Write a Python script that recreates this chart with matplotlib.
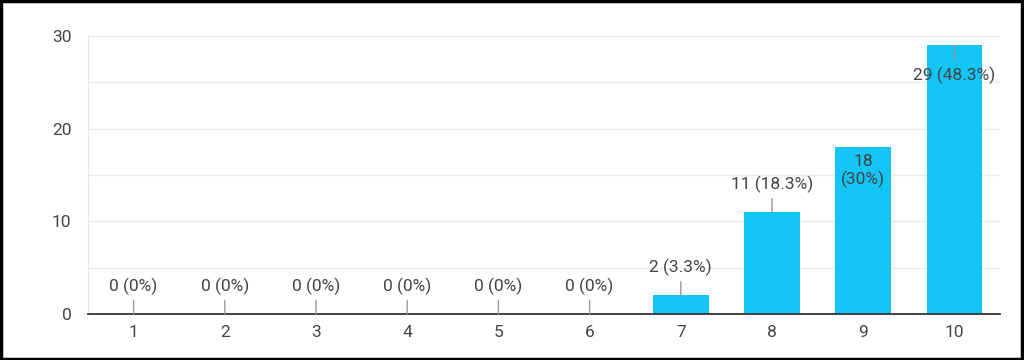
import matplotlib
matplotlib.use("Agg")
import matplotlib.pyplot as plt
from matplotlib.patches import Rectangle

plt.rcParams['font.family'] = ['Roboto', 'DejaVu Sans']

# data
categories = [1, 2, 3, 4, 5, 6, 7, 8, 9, 10]
counts = [0, 0, 0, 0, 0, 0, 2, 11, 18, 29]
labels = ["0 (0%)", "0 (0%)", "0 (0%)", "0 (0%)", "0 (0%)", "0 (0%)",
          "2 (3.3%)", "11 (18.3%)", "18\n(30%)", "29 (48.3%)"]
inside = [False] * 8 + [True, True]

bar_color = "#12c5f5"
text_color = "#444444"

fig = plt.figure(figsize=(10.24, 3.6), dpi=100)
ax = fig.add_axes([88 / 1024, 46 / 360, 912 / 1024, 278 / 360])

ax.bar(categories, counts, width=0.61, color=bar_color, zorder=2)

ax.set_xlim(0.5, 10.5)
ax.set_ylim(0, 30)
ax.set_yticks([0, 10, 20, 30])
ax.set_yticks([5, 15, 25], minor=True)
ax.set_xticks(categories)
ax.grid(axis="y", which="both", color="#ebebeb", lw=1, zorder=0)
ax.tick_params(axis="both", which="both", length=0, labelsize=12.5, colors=text_color)
ax.tick_params(axis="y", pad=12)
ax.tick_params(axis="x", pad=8)

for s in ["top", "right"]:
    ax.spines[s].set_visible(False)
ax.spines["left"].set_color("#e6e6e6")
ax.spines["bottom"].set_color("#333333")
ax.spines["bottom"].set_linewidth(1.3)
ax.spines["bottom"].set_zorder(3)

# value labels with leader lines
for x, c, lab, ins in zip(categories, counts, labels, inside):
    off = -17 if (ins and "\n" in lab) else (-21.5 if ins else 20)
    ax.annotate(lab, xy=(x, c), xytext=(0, off), textcoords="offset points",
                ha="center", va="center", fontsize=12.5, color=text_color,
                linespacing=1.15, zorder=4,
                arrowprops=dict(arrowstyle="-", color="#999999", lw=1,
                                shrinkA=2, shrinkB=0))

# black frame around the whole picture
fig.patches.append(Rectangle((0.001, 0.002), 0.997, 0.995, transform=fig.transFigure,
                             fill=False, edgecolor="black", lw=2.5))

fig.savefig("out.png", dpi=100)
